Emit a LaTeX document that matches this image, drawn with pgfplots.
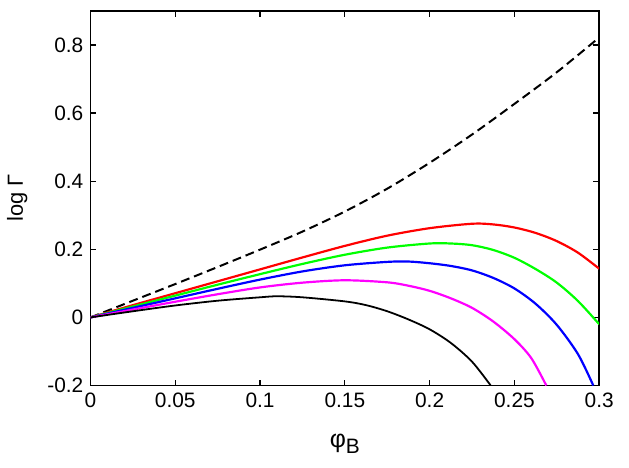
\documentclass[border=0pt]{standalone}
\usepackage{pgfplots}
\pgfplotsset{compat=1.18}
\usepackage{fontspec}
\setmainfont{Liberation Sans}
\definecolor{mred}{RGB}{255,0,0}
\definecolor{mgreen}{RGB}{0,255,0}
\definecolor{mblue}{RGB}{0,0,255}
\definecolor{mmag}{RGB}{255,0,255}

\begin{document}
\fontsize{21}{25}\selectfont
\begin{tikzpicture}
\begin{axis}[
    scale only axis,
    width=512pt, height=377pt,
    xmin=0, xmax=0.3, ymin=-0.2, ymax=0.9,
    xtick={0,0.05,...,0.3},
    ytick={-0.2,0,0.2,0.4,0.6,0.8},
    xticklabels={0,0.05,0.1,0.15,0.2,0.25,0.3},
    yticklabels={-0.2,0,0.2,0.4,0.6,0.8},
    tick align=inside,
    major tick length=6pt,
    axis line style={line width=1.5pt},
    every tick/.style={black, line width=1.3pt},
    tick label style={font=\fontsize{21}{25}\selectfont},
    /pgf/number format/assume math mode=true,
    xlabel={\fontsize{25}{28}\selectfont φ\raisebox{-0.45ex}{\fontsize{21}{24}\selectfont B}},
    ylabel={log Γ},
    label style={font=\fontsize{22}{26}\selectfont},
    xlabel style={yshift=-13pt},
    ylabel style={yshift=6pt},
    clip=true,
]
\addplot[black, line width=2pt, dash pattern=on 9pt off 5pt, smooth] coordinates {
 (0,0) (0.025,0.049) (0.05,0.098) (0.075,0.148) (0.1,0.199) (0.125,0.252)
 (0.15,0.311) (0.175,0.378) (0.2,0.454) (0.225,0.537) (0.25,0.627)
 (0.275,0.720) (0.3,0.822)
};
\addplot[mred, line width=2.2pt, smooth] coordinates {
 (0,0) (0.025,0.036) (0.05,0.071) (0.075,0.106) (0.1,0.141) (0.125,0.176)
 (0.15,0.210) (0.175,0.240) (0.2,0.262) (0.225,0.275) (0.2375,0.273)
 (0.25,0.264) (0.2625,0.248) (0.275,0.224) (0.2875,0.190) (0.3,0.143)
};
\addplot[mgreen, line width=2.2pt, smooth] coordinates {
 (0,0) (0.025,0.032) (0.05,0.064) (0.075,0.096) (0.1,0.127) (0.125,0.157)
 (0.15,0.184) (0.175,0.205) (0.2,0.217) (0.2125,0.217) (0.225,0.212)
 (0.2375,0.198) (0.25,0.175) (0.2625,0.142) (0.275,0.102) (0.2875,0.048)
 (0.3,-0.02)
};
\addplot[mblue, line width=2.2pt, smooth] coordinates {
 (0,0) (0.025,0.028) (0.05,0.056) (0.075,0.084) (0.1,0.111) (0.125,0.135)
 (0.15,0.153) (0.175,0.163) (0.1875,0.164) (0.2,0.159) (0.2125,0.151)
 (0.225,0.138) (0.2375,0.116) (0.25,0.085) (0.2625,0.040) (0.275,-0.022)
 (0.2875,-0.108) (0.2965,-0.2)
};
\addplot[mmag, line width=2.2pt, smooth] coordinates {
 (0,0) (0.025,0.023) (0.05,0.046) (0.075,0.068) (0.1,0.088) (0.125,0.102)
 (0.15,0.109) (0.175,0.103) (0.1875,0.093) (0.2,0.078) (0.2125,0.056)
 (0.225,0.028) (0.2375,-0.012) (0.25,-0.064) (0.26,-0.12) (0.2688,-0.2)
};
\addplot[black, line width=1.8pt, smooth] coordinates {
 (0,0) (0.025,0.018) (0.05,0.035) (0.075,0.049) (0.1,0.059) (0.11,0.062)
 (0.125,0.059) (0.15,0.047) (0.1625,0.036) (0.175,0.018) (0.1875,-0.006)
 (0.2,-0.035) (0.2125,-0.075) (0.225,-0.13) (0.236,-0.2)
};
\end{axis}
\path (current axis.south west) ++(-87pt,-83pt) coordinate (bl);
\path (current axis.north east) ++(30pt,11pt) coordinate (tr);
\useasboundingbox (bl) rectangle (tr);
\end{tikzpicture}
\end{document}
